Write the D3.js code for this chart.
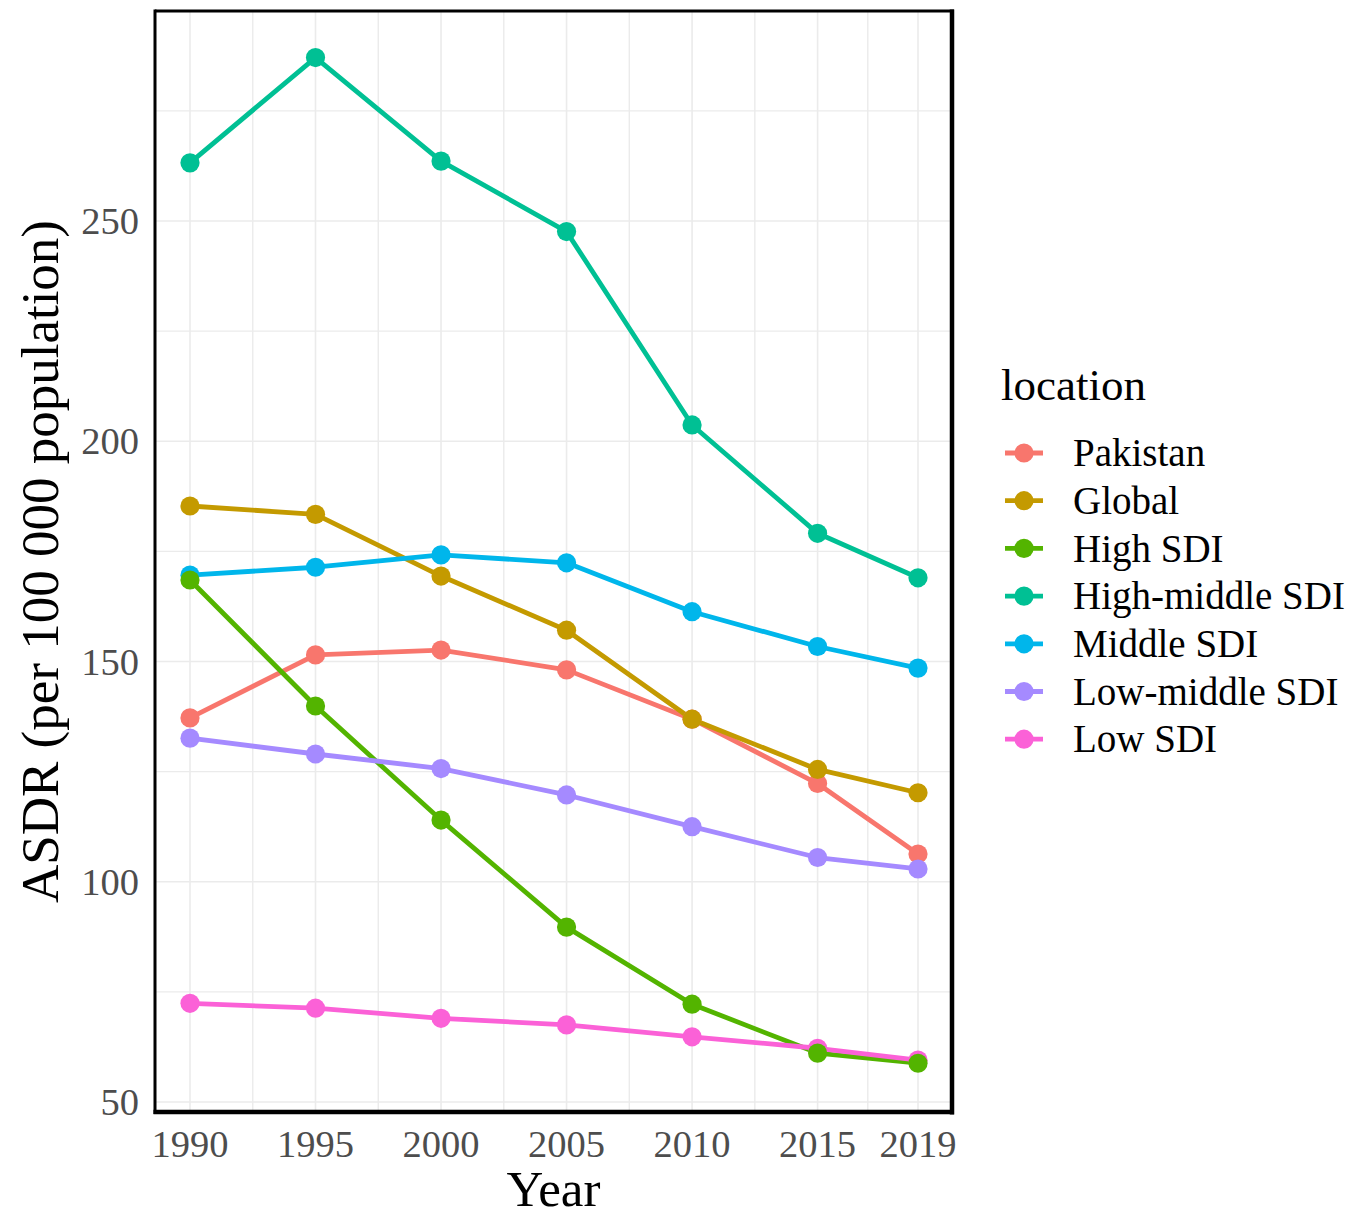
<!DOCTYPE html>
<html>
<head>
<meta charset="utf-8">
<script src="https://cdn.jsdelivr.net/npm/d3@7"></script>
<style>
  html, body { margin: 0; padding: 0; background: #fff; }
  svg { display: block; }
  text { font-family: "Liberation Serif", "Times New Roman", serif; }
</style>
</head>
<body>
<svg id="chart" width="1360" height="1218"></svg>
<script>
// ---- data ----
const years = [1990, 1995, 2000, 2005, 2010, 2015, 2019];
const locations = ["Pakistan", "Global", "High SDI", "High-middle SDI", "Middle SDI", "Low-middle SDI", "Low SDI"];
const colors = ["#F8766D", "#C49A00", "#53B400", "#00C094", "#00B6EB", "#A58AFF", "#FB61D7"];
const pakistan      = [137.2, 151.5, 152.6, 148.1, 136.9, 122.3, 106.3];
const globalVals    = [185.3, 183.4, 169.4, 157.1, 136.9, 125.5, 120.2];
const highSDI       = [168.5, 139.9, 114.0, 89.7, 72.2, 61.1, 58.8];
const highMiddleSDI = [263.2, 287.1, 263.6, 247.6, 203.7, 179.1, 169.0];
const middleSDI     = [169.6, 171.4, 174.2, 172.4, 161.3, 153.4, 148.5];
const lowMiddleSDI  = [132.6, 129.0, 125.7, 119.7, 112.5, 105.5, 102.9];
const lowSDI        = [72.4, 71.3, 69.0, 67.5, 64.8, 62.2, 59.5];
const seriesValues = [pakistan, globalVals, highSDI, highMiddleSDI, middleSDI, lowMiddleSDI, lowSDI];
const xTicks = [1990, 1995, 2000, 2005, 2010, 2015, 2019];
const xMinor = [1992.5, 1997.5, 2002.5, 2007.5, 2012.5, 2017];
const yTicks = [50, 100, 150, 200, 250];
const yMinor = [75, 125, 175, 225, 275];
const xTitle = "Year";
const yTitle = "ASDR (per 100 000 population)";
const legendTitle = "location";

const series = locations.map((name, i) => ({
  name, color: colors[i],
  values: years.map((y, j) => ({ year: y, value: seriesValues[i][j] }))
}));

// ---- layout ----
const panel = { left: 155, right: 952, top: 11, bottom: 1112 };
const lineW = 4.8, pointR = 9.6;
const svg = d3.select("#chart");
svg.append("rect").attr("width", 1360).attr("height", 1218).attr("fill", "#fff");

const x = d3.scaleLinear().domain([1990, 2019]).range([190, 918]);
const y = d3.scaleLinear().domain([50, 250]).range([1102, 221]);

// grid
const grid = svg.append("g");
const gridColor = "#EBEBEB";
grid.selectAll(".ymin").data(yMinor.filter(v => y(v) > panel.top && y(v) < panel.bottom)).join("line")
  .attr("x1", panel.left).attr("x2", panel.right)
  .attr("y1", d => y(d)).attr("y2", d => y(d))
  .attr("stroke", gridColor).attr("stroke-width", 1.4);
grid.selectAll(".ymaj").data(yTicks).join("line")
  .attr("x1", panel.left).attr("x2", panel.right)
  .attr("y1", d => y(d)).attr("y2", d => y(d))
  .attr("stroke", gridColor).attr("stroke-width", 1.6);
grid.selectAll(".xmin").data(xMinor).join("line")
  .attr("y1", panel.top).attr("y2", panel.bottom)
  .attr("x1", d => x(d)).attr("x2", d => x(d))
  .attr("stroke", gridColor).attr("stroke-width", 1.4);
grid.selectAll(".xmaj").data(xTicks).join("line")
  .attr("y1", panel.top).attr("y2", panel.bottom)
  .attr("x1", d => x(d)).attr("x2", d => x(d))
  .attr("stroke", gridColor).attr("stroke-width", 1.6);

// lines
const line = d3.line().x(d => x(d.year)).y(d => y(d.value));
svg.append("g").selectAll("path").data(series).join("path")
  .attr("d", d => line(d.values))
  .attr("fill", "none")
  .attr("stroke", d => d.color)
  .attr("stroke-width", lineW)
  .attr("stroke-linejoin", "round");

// points
const pointOrder = ["Pakistan", "Global", "Middle SDI", "High-middle SDI", "Low-middle SDI", "Low SDI", "High SDI"];
const ordered = pointOrder.map(n => series.find(s => s.name === n));
svg.append("g").selectAll("g").data(ordered).join("g")
  .attr("fill", d => d.color)
  .selectAll("circle").data(d => d.values).join("circle")
  .attr("cx", d => x(d.year)).attr("cy", d => y(d.value)).attr("r", pointR);

// panel border
const border = svg.append("g").attr("stroke", "#000");
border.append("line").attr("x1", panel.left).attr("x2", panel.right + 2).attr("y1", panel.top).attr("y2", panel.top).attr("stroke-width", 3);
border.append("line").attr("x1", panel.left).attr("x2", panel.left).attr("y1", panel.top - 1.5).attr("y2", panel.bottom + 2).attr("stroke-width", 3);
border.append("line").attr("x1", panel.right).attr("x2", panel.right).attr("y1", panel.top - 1.5).attr("y2", panel.bottom + 2.5).attr("stroke-width", 4.5);
border.append("line").attr("x1", panel.left - 1.5).attr("x2", panel.right + 2).attr("y1", panel.bottom).attr("y2", panel.bottom).attr("stroke-width", 4.5);

// axis tick labels
svg.append("g").selectAll("text").data(xTicks).join("text")
  .attr("x", d => x(d)).attr("y", 1157)
  .attr("text-anchor", "middle")
  .attr("font-size", 38.5).attr("fill", "#4D4D4D")
  .text(d => d);
svg.append("g").selectAll("text").data(yTicks).join("text")
  .attr("x", 139).attr("y", d => y(d))
  .attr("dy", "0.34em")
  .attr("text-anchor", "end")
  .attr("font-size", 38.5).attr("fill", "#4D4D4D")
  .text(d => d);

// axis titles
svg.append("text")
  .attr("x", (panel.left + panel.right) / 2).attr("y", 1206)
  .attr("text-anchor", "middle").attr("font-size", 51).attr("fill", "#000")
  .text(xTitle);
svg.append("text")
  .attr("transform", `translate(58,${(panel.top + panel.bottom) / 2}) rotate(-90)`)
  .attr("text-anchor", "middle").attr("font-size", 53).attr("fill", "#000")
  .text(yTitle);

// legend
const legend = svg.append("g");
legend.append("text").attr("x", 1001).attr("y", 400)
  .attr("font-size", 45).attr("fill", "#000").text(legendTitle);
const rowY = i => 453 + i * 47.7;
const items = legend.selectAll("g.item").data(series).join("g").attr("class", "item")
  .attr("transform", (d, i) => `translate(0,${rowY(i)})`);
items.append("line").attr("x1", 1005).attr("x2", 1043).attr("y1", 0).attr("y2", 0)
  .attr("stroke", d => d.color).attr("stroke-width", lineW);
items.append("circle").attr("cx", 1024).attr("cy", 0).attr("r", pointR).attr("fill", d => d.color);
items.append("text").attr("x", 1073).attr("y", 0).attr("dy", "0.34em")
  .attr("font-size", 39).attr("fill", "#000").text(d => d.name);
</script>
</body>
</html>
